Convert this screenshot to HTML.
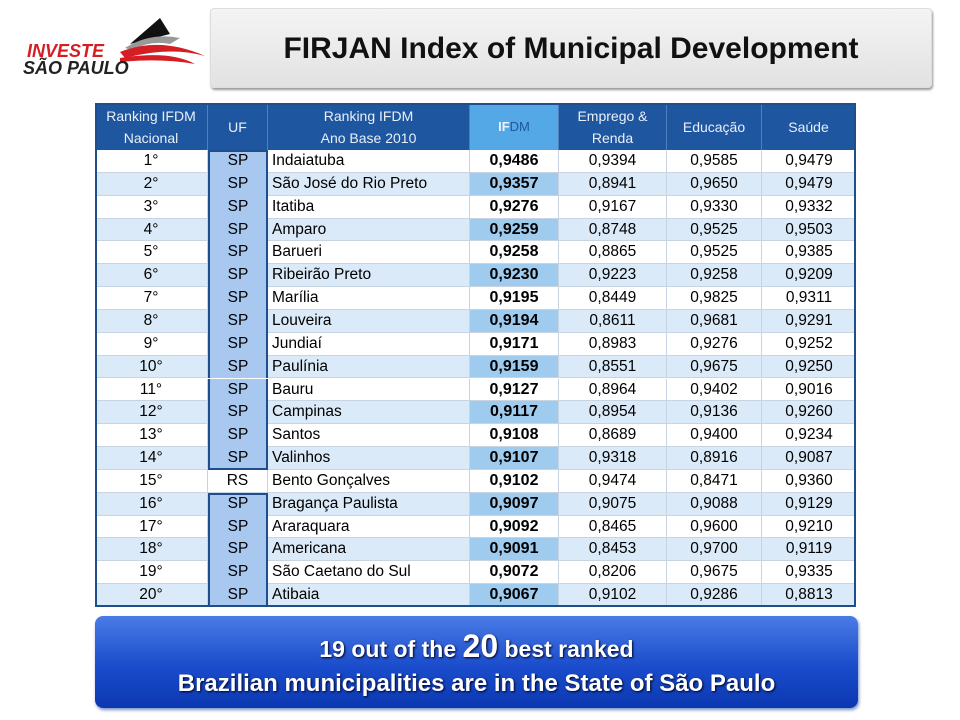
<!DOCTYPE html>
<html><head><meta charset="utf-8"><style>
body{margin:0;width:960px;height:720px;background:#fff;position:relative;overflow:hidden;font-family:"Liberation Sans",sans-serif}
.a{position:absolute}
.cell{position:absolute;box-sizing:border-box;font-size:15.5px;line-height:22.85px;white-space:nowrap;color:#000;border-right:1px solid #c8d4e2;border-bottom:1px solid #c8d4e2}
.hd{position:absolute;box-sizing:border-box;color:#e8f0fa;font-size:14px;text-align:center;display:flex;align-items:center;justify-content:center;line-height:22px;border-right:1px solid #4f7fbf}
</style></head><body>
<div class="a" style="left:20px;top:14px;width:190px;height:70px">
<svg width="190" height="70">
<path d="M110 30 L140 4 L150 20 Z" fill="#111"/>
<path d="M105 34 Q130 18 160 24 L150 30 Q130 26 112 36 Z" fill="#999"/>
<path d="M100 38 Q140 22 185 42 Q150 32 105 44 Z" fill="#d41e24"/>
<path d="M100 44 Q150 36 175 50 Q140 44 100 48 Z" fill="#d41e24"/>
</svg>
<div class="a" style="left:7px;top:27px;color:#d41e24;font:italic bold 18px 'Liberation Sans',sans-serif">INVESTE</div>
<div class="a" style="left:3px;top:44px;color:#222;font:italic bold 18px 'Liberation Sans',sans-serif">SÃO PAULO</div>
</div>
<div class="a" style="left:210px;top:8px;width:722px;height:80px;border-radius:4px;background:linear-gradient(#f4f4f4,#e2e2e2);box-shadow:1px 2px 2px #999;border:1px solid #ddd;box-sizing:border-box;text-align:center;line-height:80px;font-size:30px;font-weight:bold;color:#111">FIRJAN Index of Municipal Development</div>

<div class="a" id="tbl" style="left:95px;top:103px;width:761px;height:504px;background:#fff"></div>
<div class="a" style="left:95px;top:103px;width:761px;height:504px;border:2px solid #1f4e8c;box-sizing:border-box;pointer-events:none"></div>

<div class="a" style="left:95px;top:616px;width:763px;height:92px;border-radius:8px;background:linear-gradient(#4a7be6,#1a4ccc 55%,#0b38b0);box-shadow:1px 2px 3px #7890c0;color:#fff;text-align:center;font-weight:bold;text-shadow:1px 1px 2px #002">
<div class="a" style="left:0;right:0;top:14px;font-size:23px;line-height:32px">19 out of the <span style="font-size:32px">20</span> best ranked</div>
<div class="a" style="left:0;right:0;top:52px;font-size:24px;line-height:32px">Brazilian municipalities are in the State of São Paulo</div>
</div>
<script>
const ranks=["1°","2°","3°","4°","5°","6°","7°","8°","9°","10°","11°","12°","13°","14°","15°","16°","17°","18°","19°","20°"];
const ufs=["SP","SP","SP","SP","SP","SP","SP","SP","SP","SP","SP","SP","SP","SP","RS","SP","SP","SP","SP","SP"];
const cities=["Indaiatuba","São José do Rio Preto","Itatiba","Amparo","Barueri","Ribeirão Preto","Marília","Louveira","Jundiaí","Paulínia","Bauru","Campinas","Santos","Valinhos","Bento Gonçalves","Bragança Paulista","Araraquara","Americana","São Caetano do Sul","Atibaia"];
const ifdm=["0,9486","0,9357","0,9276","0,9259","0,9258","0,9230","0,9195","0,9194","0,9171","0,9159","0,9127","0,9117","0,9108","0,9107","0,9102","0,9097","0,9092","0,9091","0,9072","0,9067"];
const emprego=["0,9394","0,8941","0,9167","0,8748","0,8865","0,9223","0,8449","0,8611","0,8983","0,8551","0,8964","0,8954","0,8689","0,9318","0,9474","0,9075","0,8465","0,8453","0,8206","0,9102"];
const educacao=["0,9585","0,9650","0,9330","0,9525","0,9525","0,9258","0,9825","0,9681","0,9276","0,9675","0,9402","0,9136","0,9400","0,8916","0,8471","0,9088","0,9600","0,9700","0,9675","0,9286"];
const saude=["0,9479","0,9479","0,9332","0,9503","0,9385","0,9209","0,9311","0,9291","0,9252","0,9250","0,9016","0,9260","0,9234","0,9087","0,9360","0,9129","0,9210","0,9119","0,9335","0,8813"];
const headers=["Ranking IFDM<br>Nacional","UF","Ranking IFDM<br>Ano Base 2010","<b style='color:#e8f4ff'>IF</b><span style='color:#1e56a0'>DM</span>","Emprego &amp;<br>Renda","Educação","Saúde"];
const hnames=["header-rank","header-uf","header-city","header-ifdm","header-emprego","header-educacao","header-saude"];
const cx=[0,113,173,375,464,572,667,761];
const tbl=document.getElementById('tbl');
const top0=47,rh=22.85;
for(let c=0;c<7;c++){
 const h=document.createElement('div');h.className='hd';
 
 
 h.style.left=cx[c]+'px';h.style.top='0px';h.style.width=(cx[c+1]-cx[c])+'px';h.style.height=top0+'px';
 h.style.background=c==3?'#55a8e6':'#1e56a0';
 if(c==3)h.style.fontSize='13px';
 h.innerHTML=headers[c];tbl.appendChild(h);
}
const cols=[ranks,ufs,cities,ifdm,emprego,educacao,saude];
const cn=["rank","uf","city","ifdm","emprego","educacao","saude"];
for(let r=0;r<20;r++){
 const even=r%2==1;
 for(let c=0;c<7;c++){
  const d=document.createElement('div');d.className='cell';
  
  
  d.style.left=cx[c]+'px';d.style.top=(top0+r*rh)+'px';d.style.width=(cx[c+1]-cx[c])+'px';d.style.height=rh+'px';
  let bg=even?'#dbeaf8':'#fff';
  if(c==1&&ufs[r]=='SP')bg='#a9c8f0';
  if(c==3&&even)bg='#9fcbee';
  d.style.background=bg;
  d.style.textAlign=c==2?'left':'center';
  if(c==2)d.style.paddingLeft='4px';
  if(c==3){d.style.fontWeight='bold';d.style.fontSize='16px';}
  if(c==6)d.style.borderRight='none';
  if(c==1&&ufs[r]=='SP'){
   const sh=['inset 2px 0 #1f4e8c','inset -2px 0 #1f4e8c'];
   if(r==0||ufs[r-1]!='SP')sh.push('inset 0 2px #1f4e8c');
   if(r==19||ufs[r+1]!='SP')sh.push('inset 0 -2px #1f4e8c');
   d.style.boxShadow=sh.join(',');d.style.border='none';}
  d.textContent=cols[c][r];tbl.appendChild(d);
 }
}
</script>
</body></html>
